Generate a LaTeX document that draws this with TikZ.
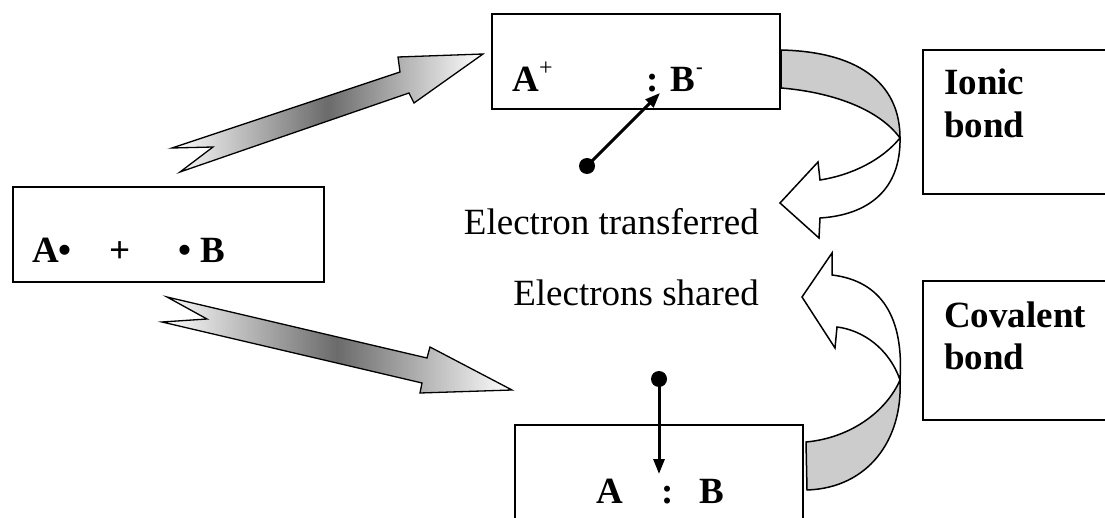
\documentclass[tikz,border=0pt]{standalone}
\usepackage{fontspec}
\setmainfont{Liberation Serif}
\usetikzlibrary{arrows.meta}
\begin{document}
\begin{tikzpicture}[x=1pt,y=-1pt,
  bigbox/.style={draw, line width=2.6pt, rectangle, inner sep=0pt},
  labbox/.style={draw, line width=1.7pt, rectangle, inner sep=0pt},
  txt/.style={inner sep=0pt, anchor=base west, font=\fontsize{37}{44}\selectfont},
  btxt/.style={inner sep=0pt, anchor=base west, font=\fontsize{37}{44}\selectfont\bfseries},
  zig/.style={draw=black, line width=1.3pt, line join=miter, left color=white, right color=white, middle color=black!58},
  band/.style={draw=black, line width=1.5pt, fill=black!20, line join=round},
  front/.style={draw=black, line width=1.5pt, fill=white, line join=miter},
  earrow/.style={line width=3pt, -{Triangle[length=15pt,width=11pt]}},
  edot/.style={circle, fill=black, inner sep=0pt, minimum size=16pt}
]
\useasboundingbox (0,0) rectangle (1105,518);

% zigzag arrows
\shade[zig] (172,148) -- (400,72) -- (398,57) -- (483,54) -- (414,103) -- (409,93) -- (180,172) -- (213,147) -- cycle;
\shade[zig] (167,297) -- (207,319) -- (162,322) -- (422,383) -- (420,393) -- (512,390) -- (430,347) -- (427,358) -- cycle;

% upper curved arrow
\draw[band] (781,50) .. controls (865,52) and (900,88) .. (900,138) .. controls (878,108) and (830,92) .. (781,88) -- cycle;
\draw[front] (900,138) .. controls (901,190) and (868,215) .. (820,218) -- (819,238) -- (780,203) -- (818,162) -- (820,180) .. controls (852,175) and (882,160) .. (900,138) -- cycle;

% lower curved arrow
\draw[band] (806,442) .. controls (850,438) and (886,412) .. (900,380) .. controls (903,440) and (868,488) .. (807,490) -- cycle;
\draw[front] (900,380) .. controls (904,318) and (882,281) .. (832,275) -- (832,253) -- (802,297) -- (835,348) -- (837,327) .. controls (862,330) and (889,348) .. (900,380) -- cycle;

% boxes
\node[bigbox, minimum width=311pt, minimum height=95pt] (lbox) at (168.5,234.5) {};
\node[bigbox, minimum width=288pt, minimum height=95pt] (tbox) at (636,61.5) {};
\node[bigbox, minimum width=288pt, minimum height=95pt] (bbox) at (659,472.5) {};
\node[labbox, minimum width=200pt, minimum height=144pt] (ibox) at (1023,122) {};
\node[labbox, minimum width=200pt, minimum height=139pt] (cbox) at (1023,350.5) {};

% left box text
\node[btxt] (la) at (32,263) {A•};
\node[btxt] (lplus) at (109,263) {+};
\node[btxt] (lb) at (178,263) {• B};

% top box text
\node[btxt] (ta) at (512,92) {A};
\node[txt, font=\fontsize{24}{28}\selectfont] (tplus) at (539,76) {+};
\node[btxt] (tb) at (646,92) {: B};
\node[btxt, font=\fontsize{20}{24}\selectfont\bfseries] (tminus) at (696,74) {-};

% bottom box text
\node[btxt] (ba) at (596,503) {A};
\node[btxt] (bcolon) at (661,503) {:};
\node[btxt] (bb) at (699,503) {B};

% side labels
\node[btxt] (ionic1) at (944,95) {Ionic};
\node[btxt] (ionic2) at (944,138) {bond};
\node[btxt] (cov1) at (944,327) {Covalent};
\node[btxt] (cov2) at (944,370) {bond};

% middle labels
\node[txt, anchor=base east] (trans) at (759,235) {Electron transferred};
\node[txt, anchor=base east] (shared) at (759,306) {Electrons shared};

% electron arrows
\node[edot] (dotT) at (587,166) {};
\coordinate (tipT) at (660,93);
\draw[earrow] (dotT.center) -- (tipT);
\node[edot] (dotB) at (659,379) {};
\coordinate (tipB) at (659,474);
\draw[earrow] (dotB.center) -- (tipB);
\end{tikzpicture}
\end{document}
